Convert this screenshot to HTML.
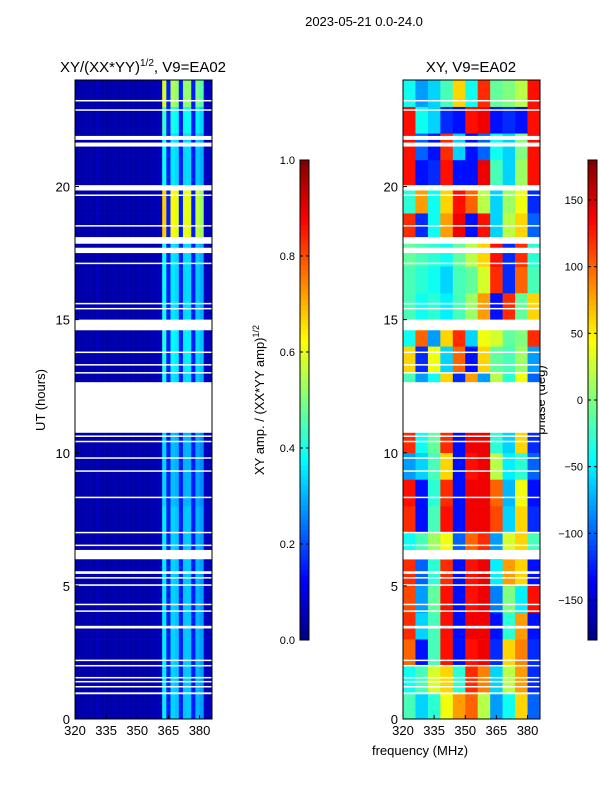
<!DOCTYPE html>
<html><head><meta charset="utf-8"><style>
body{margin:0;background:#fff;font-family:"Liberation Sans",sans-serif}
svg text{font-family:"Liberation Sans",sans-serif;fill:#000}
</style></head><body>
<svg id="fig" width="600" height="800" xmlns="http://www.w3.org/2000/svg">
<text x="364" y="26" font-size="13" text-anchor="middle">2023-05-21 0.0-24.0</text>
<text x="143" y="72" font-size="15" text-anchor="middle">XY/(XX*YY)<tspan font-size="10" dy="-6">1/2</tspan><tspan dy="6">, V9=EA02</tspan></text>
<text x="471" y="72" font-size="15" text-anchor="middle">XY, V9=EA02</text>
<text transform="translate(45,400) rotate(-90)" font-size="13" text-anchor="middle">UT (hours)</text>
<text transform="translate(264,400) rotate(-90)" font-size="13" text-anchor="middle">XY amp. / (XX*YY amp)<tspan font-size="9" dy="-5">1/2</tspan></text>
<text transform="translate(545,400) rotate(-90)" font-size="13" text-anchor="middle">phase (deg)</text>
<text x="420" y="755" font-size="13" text-anchor="middle">frequency (MHz)</text>
<g id="amp"></g>
<g id="phs"></g>
<g id="axes"></g>
</svg>
<script>
const phaseGroups=[320,326,332,338,344,350,356,362,368,374,380];
const phaseGrid=[
[-20,-60,-30,40,80,100,20,-80,-40,60,-100],
[-40,-20,30,60,-30,120,90,-60,20,80,-120],
[100,-130,-20,130,-130,130,140,-120,60,90,-120],
[120,-60,-20,130,-130,140,140,-130,-30,80,-130],
[110,-80,-10,130,-130,130,140,-90,0,-50,130],
[120,-100,-30,120,-130,130,140,-50,80,60,-130],
[-40,-20,10,40,-100,100,120,-80,30,60,-20],
[120,-130,-20,130,-130,140,140,110,-60,60,-120],
[130,-130,-30,120,-130,140,140,100,-70,40,-130],
[-80,-60,-20,60,-130,130,140,20,-50,-30,-100],
[120,-40,-10,120,-130,140,140,-30,-60,60,-120],
[-60,40,-80,100,-40,80,60,-30,-20,30,-60],
[-20,-80,-40,60,-120,80,-80,20,-30,40,-100],
[60,-120,40,-60,100,-130,60,-10,-20,10,-80],
[-40,100,-80,60,120,-60,40,30,-10,0,120],
[-20,-40,-30,-50,-20,10,80,-130,120,-10,60],
[-20,-30,-40,-60,-20,-10,30,120,-120,100,-20],
[-10,-20,-30,-40,-10,20,60,130,-120,120,-30],
[120,-120,-40,80,140,-130,130,-60,20,60,-100],
[-30,80,-40,60,130,100,20,-60,10,40,-120],
[130,-130,-120,130,-130,-130,140,-20,-60,10,130],
[130,-100,-130,120,-60,-130,-100,-40,-60,0,130],
[130,-40,-60,-120,-130,130,140,-130,-120,-130,130],
[-40,-80,-60,-20,60,-40,120,-10,0,20,130]];
const ampFreqBins=[320,322,324,326,328,330,332,334,336,338,340,342,344,346,348,350,352,354,356,358,360,362,364,366,368,370,372,374,376,378,380,382,384];
const ampFreq=[0.04,0.04,0.05,0.04,0.04,0.06,0.04,0.04,0.04,0.05,0.04,0.04,0.05,0.04,0.04,0.05,0.04,0.04,0.05,0.05,0.06,0.45,0.15,0.42,0.4,0.15,0.4,0.4,0.15,0.38,0.35,0.06,0.06];
const ampHour=[0.8,0.8,0.8,0.8,0.8,0.8,0.8,0.8,0.75,0.75,0.75,0.75,0.85,0.9,0.9,0.85,0.85,0.85,1.5,1.5,0.85,0.85,0.95,1.3];
const gaps=[[0.93,1.0],[1.2,1.24],[1.4,1.43],[1.55,1.58],[2.0,2.03],[2.2,2.23],[3.4,3.5],[4.05,4.08],[4.3,4.33],[5.0,5.06],[5.3,5.33],[5.45,5.55],[6.0,6.35],[6.5,6.55],[7.0,7.03],[8.3,8.35],[9.3,9.34],[9.8,9.83],[10.4,10.45],[10.6,10.65],[10.75,12.65],[13.0,13.03],[13.3,13.33],[13.75,13.8],[14.6,15.0],[15.4,15.44],[15.6,15.63],[17.1,17.14],[17.5,17.7],[17.85,18.1],[18.5,18.55],[19.65,19.7],[19.85,20.05],[21.5,21.65],[21.75,21.9],[22.85,22.9],[23.2,23.25]];
const xTicks=[320,335,350,365,380];
const yTicks=[0,5,10,15,20];
const ampTicks=[0.0,0.2,0.4,0.6,0.8,1.0];
const phaseTicks=[-150,-100,-50,0,50,100,150];

const NS="http://www.w3.org/2000/svg";
function jet(v){v=Math.max(0,Math.min(1,v));
 const r=Math.max(0,Math.min(1,1.5-Math.abs(4*v-3))),g=Math.max(0,Math.min(1,1.5-Math.abs(4*v-2))),b=Math.max(0,Math.min(1,1.5-Math.abs(4*v-1)));
 return `rgb(${Math.round(r*255)},${Math.round(g*255)},${Math.round(b*255)})`;}
function mk(tag,attrs,parent){const e=document.createElementNS(NS,tag);for(const k in attrs)e.setAttribute(k,attrs[k]);parent.appendChild(e);return e;}
const T=80,B=719,fMin=320,fMax=386;
function yS(h){return B-(h/24)*(B-T);}
function xS(L,f){return L+(f-fMin)/(fMax-fMin)*137;}
const amp=document.getElementById('amp'),phs=document.getElementById('phs'),axes=document.getElementById('axes');
for(let h=0;h<24;h++){
 for(let i=0;i<ampFreqBins.length;i++){
  const f0=ampFreqBins[i],f1=Math.min(f0+2,fMax);
  const r=mk('rect',{x:xS(75,f0),y:yS(h+1),width:xS(75,f1)-xS(75,f0)+0.3,height:yS(h)-yS(h+1)+0.3,fill:jet(ampFreq[i]*(ampFreq[i]>0.2?ampHour[h]:1))},amp);
  
  
 }
 for(let i=0;i<phaseGroups.length;i++){
  const f0=phaseGroups[i],f1=Math.min(f0+6,fMax);
  const r=mk('rect',{x:xS(403,f0),y:yS(h+1),width:xS(403,f1)-xS(403,f0)+0.3,height:yS(h)-yS(h+1)+0.3,fill:jet((phaseGrid[h][i]+180)/360)},phs);
  
  
 }
}
for(const L of [75,403]){
 for(const g of gaps){
  const r=mk('rect',{x:L,y:yS(g[1]),width:137,height:Math.max(1.5,yS(g[0])-yS(g[1])),fill:'#fff'},L==75?amp:phs);
  
  
 }
 const fr=mk('rect',{x:L,y:T,width:137,height:B-T,fill:'none',stroke:'#000','stroke-width':1},axes);
 
 
 for(const t of xTicks){const x=xS(L,t);
  mk('line',{x1:x,x2:x,y1:B,y2:B-4,stroke:'#000'},axes);
  const tx=mk('text',{x:x,y:B+16,'font-size':13,'text-anchor':'middle'},axes);tx.textContent=t;
  
  }
 for(const t of yTicks){const y=yS(t);
  mk('line',{x1:L,x2:L+4,y1:y,y2:y,stroke:'#000'},axes);
  const tx=mk('text',{x:L-5,y:y+5,'font-size':13,'text-anchor':'end'},axes);tx.textContent=t;
  
  }
}
function cbar(x,vmin,vmax,ticks,fmt,name){
 const n=96;
 for(let i=0;i<n;i++){const r=mk('rect',{x:x,y:640-(i+1)*480/n,width:9,height:480/n+0.3,fill:jet((i+0.5)/n)},axes);
  
  }
 const fr=mk('rect',{x:x,y:160,width:9,height:480,fill:'none',stroke:'#000'},axes);
 
 
 for(const t of ticks){const y=640-(t-vmin)/(vmax-vmin)*480;
  mk('line',{x1:x,x2:x+3,y1:y,y2:y,stroke:'#000'},axes);
  mk('line',{x1:x+6,x2:x+9,y1:y,y2:y,stroke:'#000'},axes);
  const tx=mk('text',{x:x-5,y:y+4,'font-size':11,'text-anchor':'end'},axes);tx.textContent=fmt(t);
  
  }
}
cbar(300,0,1,ampTicks,t=>t.toFixed(1),'amp-colorbar');
cbar(588,-180,180,phaseTicks,t=>t<0?'\u2212'+(-t):''+t,'phase-colorbar');
</script>
</body></html>
